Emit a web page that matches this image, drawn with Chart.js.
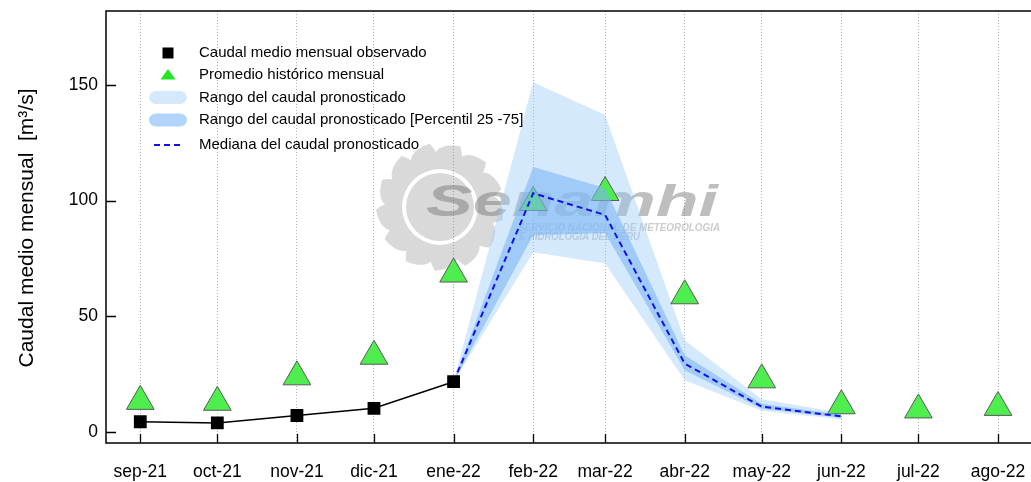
<!DOCTYPE html>
<html>
<head>
<meta charset="utf-8">
<script src="https://cdn.jsdelivr.net/npm/chart.js@4.4.1/dist/chart.umd.min.js"></script>
<style>
  html, body { margin: 0; padding: 0; overflow: hidden; background: #fff; }
  #wrap { width: 1050px; height: 482px; }
</style>
</head>
<body>
<div id="wrap"><canvas id="caudal" width="1050" height="482"></canvas></div>
<script>
// meses (inicio de mes) y etiquetas del eje x
const months = ['2021-09-01', '2021-10-01', '2021-11-01', '2021-12-01', '2022-01-01', '2022-02-01',
                '2022-03-01', '2022-04-01', '2022-05-01', '2022-06-01', '2022-07-01', '2022-08-01'];
const monthLabels = ['sep-21', 'oct-21', 'nov-21', 'dic-21', 'ene-22', 'feb-22',
                     'mar-22', 'abr-22', 'may-22', 'jun-22', 'jul-22', 'ago-22'];

// caudales [m3/s]
const observed   = [4.5, 4.0, 7.2, 10.3, 21.8, null, null, null, null, null, null, null];
const historical = [13.3, 12.9, 23.9, 32.8, 68.3, 99.2, 103.5, 58.9, 22.6, 11.4, 9.6, 10.7];
const medianQ    = [null, null, null, null, 21.8, 103.2, 93.8, 29.6, 11.0, 6.8, null, null];
const rangeMin   = [null, null, null, null, 21.8, 77.7, 72.8, 22.4, 9.2, 5.6, null, null];
const rangeMax   = [null, null, null, null, 21.8, 151.1, 137.0, 39.7, 14.2, 8.4, null, null];
const p25        = [null, null, null, null, 21.8, 85.0, 86.0, 26.7, 10.1, 6.2, null, null];
const p75        = [null, null, null, null, 21.8, 114.5, 105.5, 33.2, 12.3, 7.5, null, null];
const yTicks = [0, 50, 100, 150];

const legendLabels = [
  'Caudal medio mensual observado',
  'Promedio histórico mensual',
  'Rango del caudal pronosticado',
  'Rango del caudal pronosticado [Percentil 25 -75]',
  'Mediana del caudal pronosticado'
];

const FONT = '"Liberation Sans", Arial, sans-serif';
const day0 = Date.parse(months[0]);
const days = months.map(m => (Date.parse(m) - day0) / 86400000);

function pts(values) {
  return values.map((v, i) => ({ x: days[i], y: v }));
}

const LIGHT = 'rgba(150,200,250,0.4)';
const DARK = 'rgba(125,182,244,0.6)';
const GREEN = '#4dee4d';
const BLUE = '#1010ee';

// texto estirado a un ancho dado
function stretchText(ctx, text, x, y, width, font) {
  ctx.save();
  ctx.font = font;
  const w = ctx.measureText(text).width;
  ctx.translate(x, y);
  ctx.scale(width / w, 1);
  ctx.fillText(text, 0, 0);
  ctx.restore();
}

// sol del logo, dibujado aparte y pegado con transparencia
function sunImage() {
  const off = document.createElement('canvas');
  off.width = 160; off.height = 160;
  const o = off.getContext('2d');
  const c = 80;
  const polar = (r, a) => [c + Math.cos(a) * r, c + Math.sin(a) * r];
  o.fillStyle = '#808080';
  o.beginPath();
  o.arc(c, c, 46, 0, Math.PI * 2);
  o.fill();
  for (let i = 0; i < 13; i++) {
    const a = i * Math.PI * 2 / 13;
    const w = 0.3;
    const p1 = polar(42, a - w), tip = polar(64, a + 0.2), p2 = polar(42, a + w);
    const k1 = polar(66, a - w * 0.8), k2 = polar(52, a + w + 0.08);
    o.beginPath();
    o.moveTo(p1[0], p1[1]);
    o.quadraticCurveTo(k1[0], k1[1], tip[0], tip[1]);
    o.quadraticCurveTo(k2[0], k2[1], p2[0], p2[1]);
    o.closePath();
    o.fill();
  }
  o.globalCompositeOperation = 'destination-out';
  o.beginPath();
  o.arc(c, c, 38, 0, Math.PI * 2);
  o.arc(c, c, 34, 0, Math.PI * 2, true);
  o.fill();
  return off;
}
const sun = sunImage();

const watermark = {
  id: 'watermark',
  beforeDatasetsDraw(chart) {
    const ctx = chart.ctx;
    ctx.save();
    ctx.globalAlpha = 0.3;
    ctx.drawImage(sun, 440 - 80, 207 - 80);
    ctx.globalAlpha = 1;
    ctx.fillStyle = 'rgba(110,110,110,0.45)';
    ctx.textBaseline = 'alphabetic';
    stretchText(ctx, 'Senamhi', 426, 216, 292, 'italic bold 44px ' + FONT);
    ctx.fillStyle = 'rgba(110,110,110,0.35)';
    stretchText(ctx, 'SERVICIO NACIONAL DE METEOROLOGIA', 518, 231, 202, 'italic bold 10px ' + FONT);
    stretchText(ctx, 'E HIDROLOGIA DEL PERU', 519, 240, 121, 'italic bold 10px ' + FONT);
    ctx.restore();
  }
};

const frame = {
  id: 'frame',
  afterDraw(chart) {
    const ctx = chart.ctx;
    const a = chart.chartArea;
    const xs = chart.scales.x, ys = chart.scales.y;
    ctx.save();
    ctx.strokeStyle = '#000';
    ctx.lineWidth = 1.5;
    ctx.beginPath();
    ctx.moveTo(chart.width, a.top);
    ctx.lineTo(a.left, a.top);
    ctx.lineTo(a.left, a.bottom);
    ctx.lineTo(chart.width, a.bottom);
    ctx.stroke();
    // marcas hacia dentro
    ctx.lineWidth = 1.3;
    ctx.beginPath();
    days.forEach(d => {
      const x = Math.round(xs.getPixelForValue(d)) + 0.5;
      ctx.moveTo(x, a.bottom);
      ctx.lineTo(x, a.bottom - 9);
    });
    yTicks.forEach(v => {
      const y = Math.round(ys.getPixelForValue(v)) + 0.5;
      ctx.moveTo(a.left, y);
      ctx.lineTo(a.left + 10, y);
    });
    ctx.stroke();

    // titulo eje y
    ctx.fillStyle = '#000';
    ctx.font = '21px ' + FONT;
    ctx.textAlign = 'center';
    ctx.textBaseline = 'alphabetic';
    ctx.translate(33, 228);
    ctx.rotate(-Math.PI / 2);
    ctx.fillText('Caudal medio mensual  [m\u00B3/s]', 0, 0);
    ctx.restore();

    // leyenda
    ctx.save();
    const sx = 168, tx = 199;
    const rows = [53, 75, 97.5, 120, 145];
    ctx.fillStyle = '#000';
    ctx.fillRect(sx - 5.5, rows[0] - 5.5, 11, 11);
    ctx.fillStyle = '#22e622';
    ctx.beginPath();
    ctx.moveTo(sx, rows[1] - 6);
    ctx.lineTo(sx + 7.5, rows[1] + 4.5);
    ctx.lineTo(sx - 7.5, rows[1] + 4.5);
    ctx.closePath();
    ctx.fill();
    const pill = (y, color) => {
      ctx.fillStyle = color;
      ctx.beginPath();
      ctx.roundRect(149, y - 6.5, 38, 13, 6.5);
      ctx.fill();
    };
    pill(rows[2], 'rgb(214,233,252)');
    pill(rows[3], 'rgb(176,212,250)');
    ctx.strokeStyle = BLUE;
    ctx.lineWidth = 2;
    ctx.setLineDash([6, 4]);
    ctx.beginPath();
    ctx.moveTo(154, rows[4]);
    ctx.lineTo(181, rows[4]);
    ctx.stroke();
    ctx.setLineDash([]);
    ctx.fillStyle = '#000';
    ctx.font = '15px ' + FONT;
    ctx.textBaseline = 'middle';
    legendLabels.forEach((t, i) => ctx.fillText(t, tx, rows[i]));
    ctx.restore();
  }
};

const hidden = { borderColor: 'rgba(0,0,0,0)', borderWidth: 0, pointRadius: 0, fill: false };

new Chart(document.getElementById('caudal'), {
  type: 'line',
  data: {
    datasets: [
      { label: 'obs', data: pts(observed), order: 1, borderColor: '#000', borderWidth: 1.5,
        pointStyle: 'rect', pointRadius: 8, pointBackgroundColor: '#000', pointBorderColor: '#000', fill: false },
      { label: 'mediana', data: pts(medianQ), order: 2, borderColor: BLUE, borderWidth: 2,
        borderDash: [6, 4], pointRadius: 0, fill: false },
      Object.assign({ label: 'p25', data: pts(p25), order: 3 }, hidden),
      { label: 'p75', data: pts(p75), order: 3, borderColor: 'rgba(0,0,0,0)', borderWidth: 0,
        pointRadius: 0, fill: '-1', backgroundColor: DARK },
      { label: 'hist', data: pts(historical), order: 4, showLine: false, pointStyle: 'triangle',
        pointRadius: 16, pointBackgroundColor: GREEN, pointBorderColor: '#5a5a5a', pointBorderWidth: 1 },
      Object.assign({ label: 'min', data: pts(rangeMin), order: 5 }, hidden),
      { label: 'max', data: pts(rangeMax), order: 5, borderColor: 'rgba(0,0,0,0)', borderWidth: 0,
        pointRadius: 0, fill: '-1', backgroundColor: LIGHT }
    ]
  },
  options: {
    responsive: false,
    animation: false,
    layout: { autoPadding: false, padding: { top: 11, right: 5, bottom: 0, left: 0 } },
    elements: { line: { tension: 0 } },
    plugins: { legend: { display: false }, tooltip: { enabled: false } },
    scales: {
      x: {
        type: 'linear',
        min: -13.35,
        max: 352.3,
        afterBuildTicks: s => { s.ticks = days.map(v => ({ value: v })); },
        afterFit: s => { s.height = 39; s.paddingLeft = 0; s.paddingRight = 0; },
        ticks: {
          callback: (v, i) => monthLabels[i],
          autoSkip: false, maxRotation: 0, padding: 19,
          color: '#000', font: { family: FONT, size: 17.5 }
        },
        grid: { color: '#b0b0b0', lineWidth: 1, drawTicks: false },
        border: { display: false, dash: [1, 2] }
      },
      y: {
        min: -4.68,
        max: 181.9,
        afterBuildTicks: s => { s.ticks = yTicks.map(v => ({ value: v })); },
        afterFit: s => { s.width = 106; s.paddingTop = 0; s.paddingBottom = 0; },
        ticks: { padding: 8, color: '#000', font: { family: FONT, size: 17.5 } },
        grid: { display: false, drawTicks: false },
        border: { display: false }
      }
    }
  },
  plugins: [watermark, frame]
});
</script>
</body>
</html>
